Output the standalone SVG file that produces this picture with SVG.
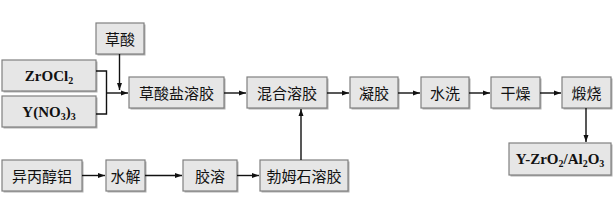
<svg xmlns="http://www.w3.org/2000/svg" width="616" height="205" viewBox="0 0 616 205">
<style>
.b{fill:#e6e6e6;stroke:#808080;stroke-width:1.2}
.s{fill:#b0b0b0}
.t{font-family:"Noto Sans CJK SC","Noto Sans",sans-serif;font-size:15px;fill:#111;text-anchor:middle;dominant-baseline:central}
.f{font-family:"Liberation Serif","Times New Roman",serif;font-weight:bold;font-size:15px;fill:#111;text-anchor:middle}
.c{fill:none;stroke:#111;stroke-width:1.4}
</style>
<defs>
<marker id="a" markerWidth="8" markerHeight="6" refX="7" refY="3" orient="auto" markerUnits="userSpaceOnUse">
<path d="M0,0.5 L7,3 L0,5.5 Z" fill="#111"/>
</marker>
</defs>
<rect width="616" height="205" fill="#fff"/>
<g id="caosuan"><rect class="s" x="97.5" y="24.5" width="48" height="31"/><rect class="b" x="96" y="23" width="48" height="31"/><text class="t" x="120" y="38.5">草酸</text></g>
<g id="zrocl2"><rect class="s" x="3.5" y="61.5" width="94" height="31"/><rect class="b" x="2" y="60" width="94" height="31"/><text class="f" x="49" y="81">ZrOCl<tspan font-size="10" dy="3">2</tspan></text></g>
<g id="yno3"><rect class="s" x="3.5" y="97.5" width="94" height="31"/><rect class="b" x="2" y="96" width="94" height="31"/><text class="f" x="49" y="117">Y(NO<tspan font-size="10" dy="3">3</tspan><tspan dy="-3">)</tspan><tspan font-size="10" dy="3">3</tspan></text></g>
<g id="caosuanyan"><rect class="s" x="130.5" y="78.5" width="95" height="31"/><rect class="b" x="129" y="77" width="95" height="31"/><text class="t" x="176.5" y="92.5">草酸盐溶胶</text></g>
<g id="hunhe"><rect class="s" x="248.5" y="78.5" width="80" height="31"/><rect class="b" x="247" y="77" width="80" height="31"/><text class="t" x="287" y="92.5">混合溶胶</text></g>
<g id="ningjiao"><rect class="s" x="351.5" y="78.5" width="48" height="31"/><rect class="b" x="350" y="77" width="48" height="31"/><text class="t" x="374" y="92.5">凝胶</text></g>
<g id="shuixi"><rect class="s" x="422.5" y="78.5" width="48" height="31"/><rect class="b" x="421" y="77" width="48" height="31"/><text class="t" x="445" y="92.5">水洗</text></g>
<g id="ganzao"><rect class="s" x="492.5" y="78.5" width="49" height="31"/><rect class="b" x="491" y="77" width="49" height="31"/><text class="t" x="515.5" y="92.5">干燥</text></g>
<g id="duanshao"><rect class="s" x="563.5" y="78.5" width="49" height="31"/><rect class="b" x="562" y="77" width="49" height="31"/><text class="t" x="586.5" y="92.5">煅烧</text></g>
<g id="product"><rect class="s" x="510.5" y="144.5" width="102" height="32"/><rect class="b" x="509" y="143" width="102" height="32"/><text class="f" x="560" y="164">Y-ZrO<tspan font-size="10" dy="3">2</tspan><tspan dy="-3">/Al</tspan><tspan font-size="10" dy="3">2</tspan><tspan dy="-3">O</tspan><tspan font-size="10" dy="3">3</tspan></text></g>
<g id="yibingchunlv"><rect class="s" x="3.5" y="161.5" width="80" height="31"/><rect class="b" x="2" y="160" width="80" height="31"/><text class="t" x="42" y="175.5">异丙醇铝</text></g>
<g id="shuijie"><rect class="s" x="107.5" y="161.5" width="39" height="31"/><rect class="b" x="106" y="160" width="39" height="31"/><text class="t" x="125.5" y="175.5">水解</text></g>
<g id="jiaorong"><rect class="s" x="184.5" y="161.5" width="54" height="31"/><rect class="b" x="183" y="160" width="54" height="31"/><text class="t" x="210" y="175.5">胶溶</text></g>
<g id="bomushi"><rect class="s" x="261.5" y="161.5" width="88" height="31"/><rect class="b" x="260" y="160" width="88" height="31"/><text class="t" x="304" y="175.5">勃姆石溶胶</text></g>
<g id="connectors">
<path class="c" d="M96,71 H106.5 V114 H96"/>
<path class="c" d="M106.5,93 H128" marker-end="url(#a)"/>
<path class="c" d="M119.5,54 V90" marker-end="url(#a)"/>
<path class="c" d="M224,93 H246" marker-end="url(#a)"/>
<path class="c" d="M327,93 H349" marker-end="url(#a)"/>
<path class="c" d="M398,93 H420" marker-end="url(#a)"/>
<path class="c" d="M469,93 H490" marker-end="url(#a)"/>
<path class="c" d="M540,93 H561" marker-end="url(#a)"/>
<path class="c" d="M586,108 V142" marker-end="url(#a)"/>
<path class="c" d="M82,175.5 H105" marker-end="url(#a)"/>
<path class="c" d="M145,175.5 H182" marker-end="url(#a)"/>
<path class="c" d="M237,175.5 H259" marker-end="url(#a)"/>
<path class="c" d="M301,160 V109" marker-end="url(#a)"/>
</g>
</svg>
